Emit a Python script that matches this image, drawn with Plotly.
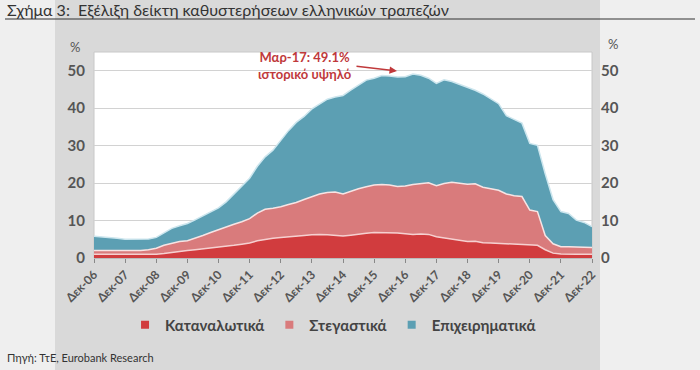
import pandas as pd
import plotly.graph_objects as go

# ---- data (quarterly, Dec-06 .. Dec-22), % of loans ----
quarters = pd.date_range("2006-12-31", periods=65, freq="QE")

consumer = [1.0, 1.0, 0.9, 0.8, 0.8, 0.8, 0.8, 0.9, 1.0, 1.2,
            1.5, 1.8, 2.0, 2.2, 2.4, 2.6, 2.9, 3.1, 3.4, 3.7,
            4.0, 4.6, 5.0, 5.3, 5.5, 5.6, 5.8, 6.0, 6.2, 6.3,
            6.2, 6.0, 5.9, 6.1, 6.4, 6.6, 6.8, 6.8, 6.8, 6.7,
            6.5, 6.3, 6.4, 6.3, 5.7, 5.4, 5.0, 4.6, 4.4, 4.5,
            4.1, 4.0, 3.9, 3.9, 3.8, 3.7, 3.5, 3.4, 2.2, 1.3,
            1.1, 1.0, 1.0, 1.0, 1.0]

mortgage = [1.0, 1.0, 1.1, 1.2, 1.1, 1.2, 1.2, 1.3, 1.6, 2.2,
            2.5, 2.6, 2.6, 3.0, 3.6, 4.2, 4.7, 5.2, 5.6, 6.0,
            6.5, 7.4, 8.0, 8.0, 8.2, 8.7, 9.0, 9.6, 10.2, 10.8,
            11.3, 11.6, 11.2, 11.7, 12.1, 12.4, 12.7, 12.8, 12.7, 12.4,
            12.7, 13.3, 13.5, 13.8, 13.6, 14.5, 15.2, 15.4, 15.3, 15.3,
            14.8, 14.5, 14.2, 13.2, 12.8, 12.7, 9.3, 9.0, 3.8, 2.5,
            1.9, 2.0, 1.9, 1.9, 1.8]

business = [3.8, 3.7, 3.5, 3.3, 3.1, 3.0, 3.0, 2.9, 2.9, 3.4,
            3.9, 4.2, 4.6, 5.0, 5.2, 5.4, 5.8, 6.7, 8.0, 9.6,
            10.8, 12.5, 14.0, 15.5, 17.8, 19.7, 21.4, 22.2, 23.4, 24.1,
            24.9, 25.4, 26.3, 27.0, 27.7, 28.5, 28.5, 29.1, 29.1, 29.2,
            29.2, 29.5, 28.9, 27.9, 27.3, 27.7, 26.9, 26.3, 26.0, 25.0,
            24.9, 24.1, 23.1, 20.9, 20.3, 19.6, 17.8, 17.7, 16.5, 11.8,
            9.4, 8.9, 7.2, 6.6, 5.6]

tick_years = list(range(2006, 2023))
tick_dates = [pd.Timestamp(f"{y}-12-31") for y in tick_years]
tick_labels = [f"Δεκ-{y % 100:02d}" for y in tick_years]

series_names = ["Καταναλωτικά", "Στεγαστικά", "Επιχειρηματικά"]
fill_colors = ["#d13c3e", "#d97b7c", "#5c9fb3"]
edge_colors = ["#f6d0d0", "#f7e4e4", "#cde6ee"]

# ---- figure ----
W, H = 700, 370
L, R, T, B = 94, 108, 52, 112
pw, ph = W - L - R, H - T - B


def px(xp):
    return (xp - L) / pw


def py(yp):
    return (H - B - yp) / ph


fig = go.Figure()
for vals, name, fc, ec in zip([consumer, mortgage, business], series_names, fill_colors, edge_colors):
    fig.add_trace(go.Scatter(
        x=quarters, y=vals, name=name, stackgroup="one", mode="lines",
        fillcolor=fc, line=dict(color=ec, width=1.5), showlegend=False,
        hoverinfo="x+y+name"))

for name, fc in zip(series_names, fill_colors):
    fig.add_trace(go.Scatter(
        x=[None], y=[None], mode="markers", name=name,
        marker=dict(symbol="square", size=8, color=fc), showlegend=True))

# right axis mirror
fig.add_trace(go.Scatter(x=[quarters[0]], y=[None], yaxis="y2", showlegend=False,
                         hoverinfo="skip"))

tick_font = dict(family="Lato", size=15, color="#555555", weight="bold")

fig.update_layout(
    width=W, height=H,
    margin=dict(l=L, r=R, t=T, b=B),
    paper_bgcolor="#efefef",
    plot_bgcolor="white",
    font=dict(family="Lato", color="#444444"),
    xaxis=dict(
        type="date",
        range=[quarters[0], quarters[-1]],
        tickvals=tick_dates, ticktext=tick_labels, tickangle=-45,
        tickfont=dict(family="Lato", size=12, color="#555555", weight="bold"),
        ticks="outside", ticklen=4, tickcolor="#888888",
        showgrid=False, showline=True, linecolor="#bbbbbb", zeroline=False,
    ),
    yaxis=dict(
        range=[0, 55], tickvals=[0, 10, 20, 30, 40, 50],
        tickfont=tick_font, ticklabelstandoff=8,
        showgrid=True, gridcolor="#d2d2d2", gridwidth=1, zeroline=False,
        showline=False,
    ),
    yaxis2=dict(
        range=[0, 55], tickvals=[0, 10, 20, 30, 40, 50],
        overlaying="y", side="right", tickfont=tick_font, ticklabelstandoff=8,
        showgrid=False, zeroline=False, showline=False,
    ),
    legend=dict(
        orientation="h", x=0.48, xanchor="center", y=py(325), yanchor="middle",
        traceorder="normal",
        font=dict(family="Lato", size=15, color="#444444", weight="bold"),
        bgcolor="rgba(0,0,0,0)", itemwidth=30,
    ),
    shapes=[
        dict(type="rect", xref="paper", yref="paper", layer="below",
             x0=px(55), x1=px(600), y0=py(H), y1=py(0),
             fillcolor="#d9d9d9", line=dict(width=0)),
        dict(type="rect", xref="paper", yref="paper", layer="below",
             x0=0, x1=1, y0=0, y1=1,
             fillcolor="white", line=dict(color="#c8c8c8", width=1)),
        dict(type="line", xref="paper", yref="paper",
             x0=px(5), x1=px(695), y0=py(19), y1=py(19),
             line=dict(color="#333333", width=1.2)),
    ],
    annotations=[
        dict(text="Σχήμα 3:  Εξέλιξη δείκτη καθυστερήσεων ελληνικών τραπεζών",
             xref="paper", yref="paper", x=px(5), y=py(10), xanchor="left",
             yanchor="middle", showarrow=False,
             font=dict(family="Lato", size=16, color="#333333")),
        dict(text="Πηγή: ΤτΕ, Eurobank Research",
             xref="paper", yref="paper", x=px(5), y=py(357), xanchor="left",
             yanchor="middle", showarrow=False,
             font=dict(family="Lato", size=11, color="#333333")),
        dict(text="%", xref="paper", yref="paper", x=px(75), y=py(47),
             xanchor="center", yanchor="middle", showarrow=False,
             font=dict(family="Lato", size=13, color="#555555")),
        dict(text="%", xref="paper", yref="paper", x=px(613), y=py(44),
             xanchor="center", yanchor="middle", showarrow=False,
             font=dict(family="Lato", size=13, color="#555555")),
        dict(text="Μαρ-17: 49.1%<br>ιστορικό υψηλό",
             xref="paper", yref="paper", x=px(305), y=py(65),
             xanchor="center", yanchor="middle", showarrow=False,
             font=dict(family="Lato", size=13, color="#c0393b", weight="bold")),
        dict(text="", xref="paper", yref="paper", x=px(397), y=py(71),
             ax=-42, ay=-5, showarrow=True, arrowhead=2, arrowsize=1,
             arrowwidth=1.5, arrowcolor="#c0393b"),
    ],
)

fig.write_html("out.html",
               config={"displayModeBar": False},
               post_script="document.body.style.margin='0';"
                           "document.body.style.overflow='hidden';")
